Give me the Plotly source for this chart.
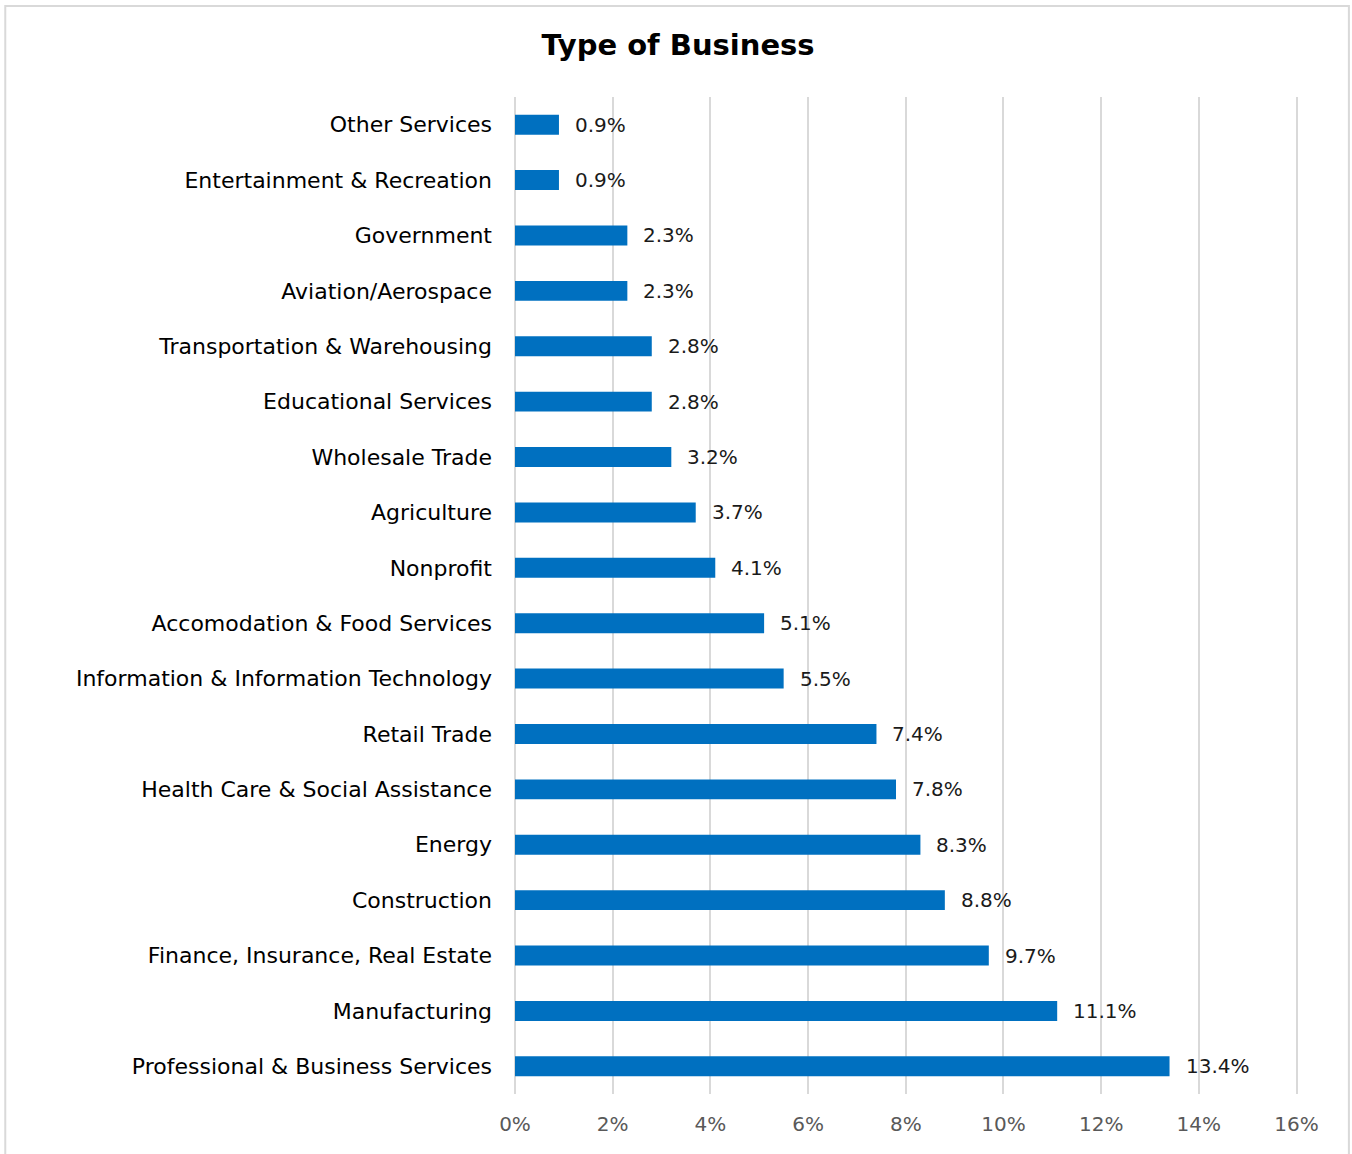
import plotly.graph_objects as go

# Share of respondents by business type (percent), top to bottom as listed
categories = [
    "Other Services",
    "Entertainment & Recreation",
    "Government",
    "Aviation/Aerospace",
    "Transportation & Warehousing",
    "Educational Services",
    "Wholesale Trade",
    "Agriculture",
    "Nonprofit",
    "Accomodation & Food Services",
    "Information & Information Technology",
    "Retail Trade",
    "Health Care & Social Assistance",
    "Energy",
    "Construction",
    "Finance, Insurance, Real Estate",
    "Manufacturing",
    "Professional & Business Services",
]
values = [0.9, 0.9, 2.3, 2.3, 2.8, 2.8, 3.2, 3.7, 4.1, 5.1, 5.5, 7.4, 7.8, 8.3, 8.8, 9.7, 11.1, 13.4]
tick_values = [0, 2, 4, 6, 8, 10, 12, 14, 16]
tick_labels = [f"{t}%" for t in tick_values]

FONT = "DejaVu Sans, Verdana, sans-serif"

fig = go.Figure(
    go.Bar(
        x=values,
        y=categories,
        orientation="h",
        width=0.36,
        marker=dict(color="#0070C0", line=dict(width=0)),
        hoverinfo="x+y",
    )
)

# value labels just right of each bar end
for cat, v in zip(categories, values):
    fig.add_annotation(
        x=v, y=cat, text=f"{v:.1f}%", showarrow=False,
        xanchor="left", xshift=14,
        font=dict(family=FONT, size=20, color="#1a1a1a"),
    )

# light outer frame around the chart
fig.add_shape(
    type="rect", xref="paper", yref="paper",
    x0=-0.651, x1=1.065, y0=-0.07, y1=1.0913,
    line=dict(color="#d9d9d9", width=2), fillcolor="rgba(0,0,0,0)",
    layer="below",
)

fig.update_layout(
    width=1352,
    height=1154,
    margin=dict(l=515, r=54, t=97, b=60),
    paper_bgcolor="white",
    plot_bgcolor="white",
    showlegend=False,
    title=dict(
        text="<b>Type of Business</b>",
        x=678 / 1352, xanchor="center",
        y=1 - 45 / 1154, yanchor="middle",
        font=dict(family=FONT, size=29, color="#000000"),
    ),
    xaxis=dict(
        range=[0, 16.03],
        tickvals=tick_values,
        ticktext=tick_labels,
        showgrid=True,
        gridcolor="#d9d9d9",
        gridwidth=2,
        zeroline=True,
        zerolinecolor="#d9d9d9",
        zerolinewidth=2,
        showline=False,
        ticks="",
        ticklabelstandoff=16,
        tickfont=dict(family=FONT, size=20, color="#595959"),
        fixedrange=True,
    ),
    yaxis=dict(
        categoryorder="array",
        categoryarray=categories[::-1],
        showgrid=False,
        zeroline=False,
        showline=False,
        ticks="",
        ticklabelstandoff=22,
        tickfont=dict(family=FONT, size=22, color="#000000"),
        fixedrange=True,
    ),
)

fig.write_html("out.html")
